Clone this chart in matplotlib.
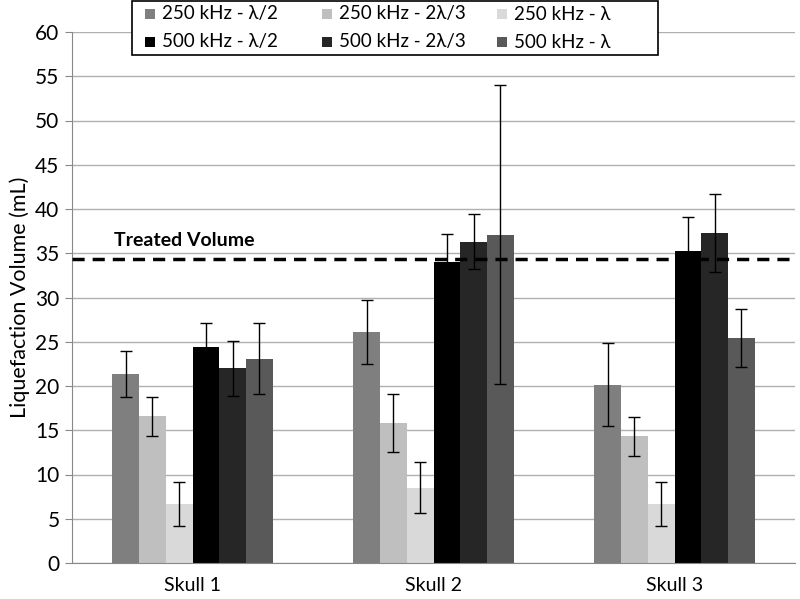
import matplotlib
matplotlib.use("Agg")
import matplotlib.pyplot as plt
from matplotlib.patches import Rectangle
import numpy as np

plt.rcParams['font.family'] = ['Lato', 'DejaVu Sans']

categories = ["Skull 1", "Skull 2", "Skull 3"]
series_names = ["250 kHz - λ/2", "250 kHz - 2λ/3", "250 kHz - λ",
                "500 kHz - λ/2", "500 kHz - 2λ/3", "500 kHz - λ"]
v_250_half = [21.4, 26.1, 20.15]
v_250_23 = [16.6, 15.8, 14.3]
v_250_full = [6.7, 8.5, 6.7]
v_500_half = [24.4, 34.0, 35.25]
v_500_23 = [22.0, 36.3, 37.25]
v_500_full = [23.1, 37.1, 25.4]
e_250_half = [2.6, 3.6, 4.7]
e_250_23 = [2.2, 3.3, 2.2]
e_250_full = [2.5, 2.9, 2.5]
e_500_half = [2.7, 3.2, 3.9]
e_500_23 = [3.1, 3.1, 4.4]
e_500_full = [4.05, 16.9, 3.25]
treated_volume = 34.4

values = [v_250_half, v_250_23, v_250_full, v_500_half, v_500_23, v_500_full]
errors = [e_250_half, e_250_23, e_250_full, e_500_half, e_500_23, e_500_full]
colors = ["#7f7f7f", "#bfbfbf", "#d9d9d9", "#000000", "#262626", "#595959"]

W, H = 800, 599
fig = plt.figure(figsize=(W / 100, H / 100), dpi=100)
ax = fig.add_axes([72 / W, 1 - 563 / H, (795 - 72) / W, (563 - 32) / H])

x = np.arange(len(categories))
w = 0.111
for i, (vals, errs, c, name) in enumerate(zip(values, errors, colors, series_names)):
    ax.bar(x + (i - 2.5) * w, vals, w, color=c, label=name, zorder=2,
           yerr=errs, error_kw=dict(ecolor="black", elinewidth=1, capsize=4,
                                    capthick=1, zorder=3))

ax.axhline(treated_volume, color="black", lw=2.5, dashes=(3.5, 2.3), zorder=4)
ax.text(-0.325, 36.4, "Treated Volume", fontsize=14, fontweight="bold",
        ha="left", va="center")

ax.set_xlim(-0.5, 2.5)
ax.set_ylim(0, 60)
ax.set_yticks(np.arange(0, 61, 5))
ax.set_xticks(x)
ax.set_xticklabels(categories, fontsize=14)
ax.tick_params(axis="x", length=0, pad=10)
ax.tick_params(axis="y", length=5, color="#888888", labelsize=15, pad=4)
ax.yaxis.grid(True, color="#b0b0b0", lw=1, zorder=0)
ax.set_axisbelow(True)
for s in ["top", "right"]:
    ax.spines[s].set_visible(False)
ax.spines["left"].set_color("#888888")
ax.spines["bottom"].set_color("#888888")
ax.set_ylabel("Liquefaction Volume (mL)", fontsize=15.5, labelpad=4)

# legend (Excel style: 3 columns, row-wise order, framed box)
def fx(px):
    return px / W

def fy(py):
    return 1 - py / H

fig.add_artist(Rectangle((fx(131.5), fy(55)), (658 - 131.5) / W, 54 / H,
                         transform=fig.transFigure, facecolor="white",
                         edgecolor="black", lw=1.2, zorder=5))
col_marker_x = [145, 322, 497]
row_center_y = [14, 42]
for i, (name, c) in enumerate(zip(series_names, colors)):
    row, col = divmod(i, 3)
    mx, my = col_marker_x[col], row_center_y[row]
    fig.add_artist(Rectangle((fx(mx), fy(my + 5)), 10 / W, 10 / H,
                             transform=fig.transFigure, facecolor=c,
                             edgecolor="none", zorder=6))
    fig.text(fx(mx + 17), fy(my), name, fontsize=13.5, ha="left",
             va="center", zorder=6)

fig.savefig("out.png", dpi=100)
